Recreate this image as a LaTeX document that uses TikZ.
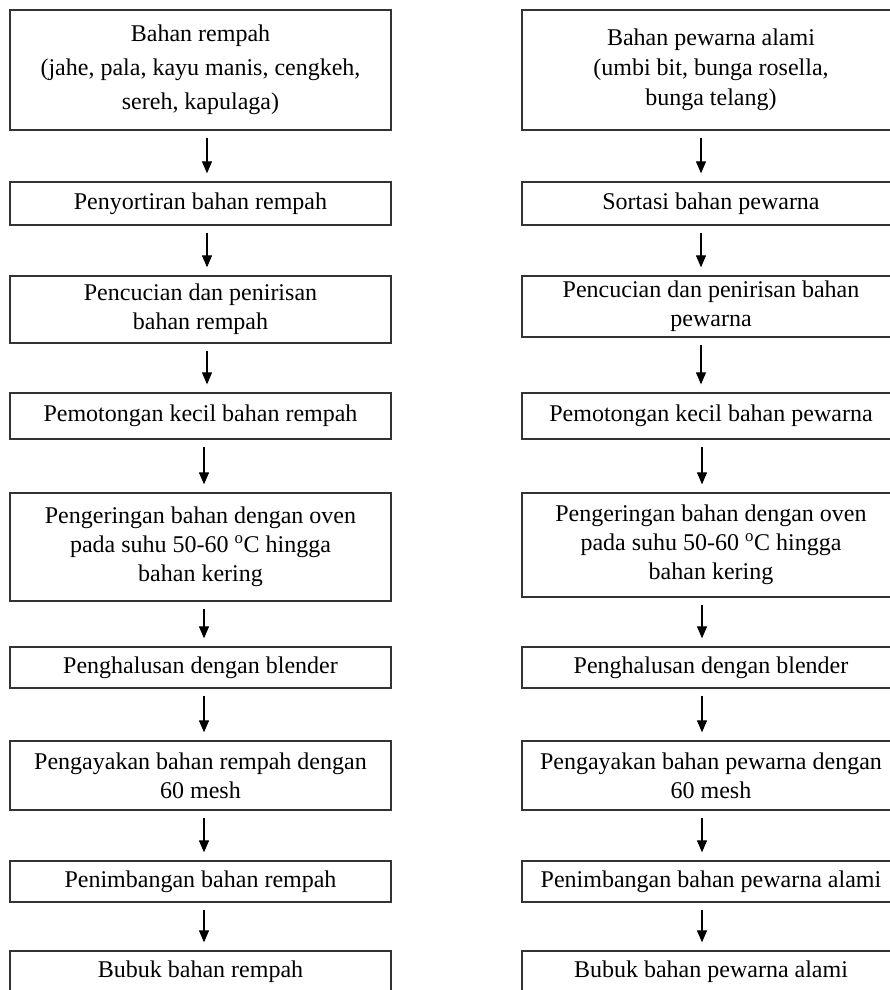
\documentclass[tikz,border=0pt]{standalone}
\usepackage{fontspec}
\setmainfont{Liberation Serif}
\usetikzlibrary{arrows.meta}
\tikzset{
  box/.style={draw=black!80, line width=1.3pt, rectangle, inner sep=0pt, align=center,
    font=\fontsize{24}{29}\selectfont, text=black},
  lbox/.style={box, minimum width=381pt},
  rbox/.style={box, minimum width=378pt},
  arr/.style={draw=black, line width=1.1pt, -{Triangle[length=12pt,width=10pt]},
    shorten <=7pt, shorten >=8pt}
}
\begin{document}
\begin{tikzpicture}[x=1pt,y=-1pt]
\useasboundingbox (0,0) rectangle (890,990);
\clip (0,0) rectangle (890,990);
\fill[white] (0,0) rectangle (890,990);
% left column
\node[lbox, minimum height=120pt, font=\fontsize{24}{34}\selectfont] (L1) at (200.5,70) {Bahan rempah\\(jahe, pala, kayu manis, cengkeh,\\sereh, kapulaga)};
\node[lbox, minimum height=43pt] (L2) at (200.5,203.5) {Penyortiran bahan rempah};
\node[lbox, minimum height=67pt] (L3) at (200.5,309.5) {Pencucian dan penirisan\\bahan rempah};
\node[lbox, minimum height=46pt] (L4) at (200.5,416) {Pemotongan kecil bahan rempah};
\node[lbox, minimum height=108pt] (L5) at (200.5,547) {Pengeringan bahan dengan oven\\pada suhu 50-60 \textsuperscript{o}C hingga\\bahan kering};
\node[lbox, minimum height=41pt] (L6) at (200.5,667.5) {Penghalusan dengan blender};
\node[lbox, minimum height=69pt] (L7) at (200.5,775.5) {Pengayakan bahan rempah dengan\\60 mesh};
\node[lbox, minimum height=41pt] (L8) at (200.5,881.5) {Penimbangan bahan rempah};
\node[lbox, minimum height=41pt] (L9) at (200.5,971.5) {Bubuk bahan rempah};
% right column
\node[rbox, minimum height=120pt, font=\fontsize{24}{30}\selectfont] (R1) at (711,70) {Bahan pewarna alami\\(umbi bit, bunga rosella,\\bunga telang)};
\node[rbox, minimum height=43pt] (R2) at (711,203.5) {Sortasi bahan pewarna};
\node[rbox, minimum height=61pt] (R3) at (711,306.5) {Pencucian dan penirisan bahan\\pewarna};
\node[rbox, minimum height=46pt] (R4) at (711,416) {Pemotongan kecil bahan pewarna};
\node[rbox, minimum height=104pt] (R5) at (711,545) {Pengeringan bahan dengan oven\\pada suhu 50-60 \textsuperscript{o}C hingga\\bahan kering};
\node[rbox, minimum height=41pt] (R6) at (711,667.5) {Penghalusan dengan blender};
\node[rbox, minimum height=69pt] (R7) at (711,775.5) {Pengayakan bahan pewarna dengan\\60 mesh};
\node[rbox, minimum height=41pt] (R8) at (711,881.5) {Penimbangan bahan pewarna alami};
\node[rbox, minimum height=41pt] (R9) at (711,971.5) {Bubuk bahan pewarna alami};
% arrow columns
\coordinate (la) at (207,0);
\coordinate (lb) at (204,0);
\coordinate (ra) at (701,0);
\coordinate (rb) at (702,0);
\draw[arr] (L1.south -| la) -- (L2.north -| la);
\draw[arr] (L2.south -| la) -- (L3.north -| la);
\draw[arr] (L3.south -| la) -- (L4.north -| la);
\draw[arr] (L4.south -| lb) -- (L5.north -| lb);
\draw[arr] (L5.south -| lb) -- (L6.north -| lb);
\draw[arr] (L6.south -| lb) -- (L7.north -| lb);
\draw[arr] (L7.south -| lb) -- (L8.north -| lb);
\draw[arr] (L8.south -| lb) -- (L9.north -| lb);
\draw[arr] (R1.south -| ra) -- (R2.north -| ra);
\draw[arr] (R2.south -| ra) -- (R3.north -| ra);
\draw[arr] (R3.south -| ra) -- (R4.north -| ra);
\draw[arr] (R4.south -| rb) -- (R5.north -| rb);
\draw[arr] (R5.south -| rb) -- (R6.north -| rb);
\draw[arr] (R6.south -| rb) -- (R7.north -| rb);
\draw[arr] (R7.south -| rb) -- (R8.north -| rb);
\draw[arr] (R8.south -| rb) -- (R9.north -| rb);
\end{tikzpicture}
\end{document}
